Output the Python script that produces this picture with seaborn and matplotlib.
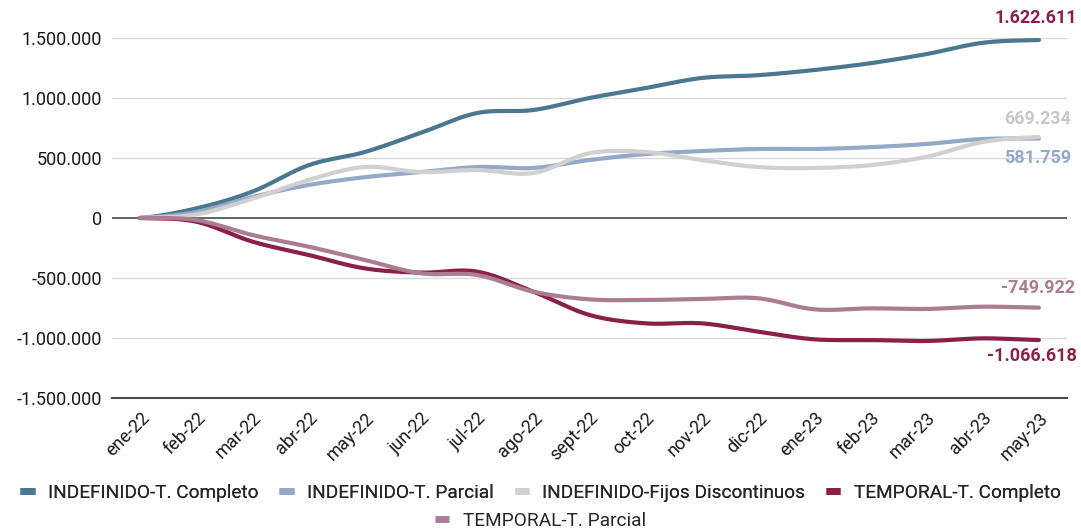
import numpy as np
import pandas as pd
import matplotlib
matplotlib.use("Agg")
import matplotlib.pyplot as plt
import matplotlib.transforms as mtransforms
from matplotlib.lines import Line2D
from matplotlib.ticker import FuncFormatter
import seaborn as sns

meses = ["ene-22", "feb-22", "mar-22", "abr-22", "may-22", "jun-22", "jul-22", "ago-22",
         "sept-22", "oct-22", "nov-22", "dic-22", "ene-23", "feb-23", "mar-23", "abr-23", "may-23"]

indef_completo = [0, 80000, 220000, 440000, 550000, 710000, 875000, 900000, 1000000,
                  1083000, 1167000, 1190000, 1233000, 1290000, 1366000, 1460000, 1483000]
indef_parcial = [0, 50000, 175000, 275000, 340000, 383000, 425000, 417000, 483000,
                 533000, 558000, 575000, 575000, 590000, 617000, 658000, 662000]
indef_fijos = [0, 30000, 160000, 317000, 425000, 383000, 400000, 375000, 540000,
               550000, 483000, 425000, 417000, 440000, 510000, 633000, 675000]
temp_completo = [0, -31000, -197000, -308000, -420000, -455000, -447000, -614000, -808000,
                 -878000, -878000, -947000, -1011000, -1017000, -1025000, -1003000, -1017000]
temp_parcial = [0, -17000, -142000, -239000, -350000, -461000, -475000, -614000, -678000,
                -683000, -675000, -669000, -761000, -753000, -758000, -739000, -747000]

series = {
    "INDEFINIDO-T. Completo": indef_completo,
    "INDEFINIDO-T. Parcial": indef_parcial,
    "INDEFINIDO-Fijos Discontinuos": indef_fijos,
    "TEMPORAL-T. Completo": temp_completo,
    "TEMPORAL-T. Parcial": temp_parcial,
}
colores = {
    "INDEFINIDO-T. Completo": "#4a7890",
    "INDEFINIDO-T. Parcial": "#93a9c8",
    "INDEFINIDO-Fijos Discontinuos": "#d0d0d0",
    "TEMPORAL-T. Completo": "#8a1f47",
    "TEMPORAL-T. Parcial": "#ab7d90",
}

# etiquetas finales (texto, color, desplazamiento en px respecto al último punto)
etiquetas = [
    ("INDEFINIDO-T. Completo", "1.622.611", "#8a1f47", 38, 22),
    ("INDEFINIDO-Fijos Discontinuos", "669.234", "#c8c8c8", 32, 18),
    ("INDEFINIDO-T. Parcial", "581.759", "#93a9c8", 32, -19),
    ("TEMPORAL-T. Parcial", "-749.922", "#ab7d90", 36, 20),
    ("TEMPORAL-T. Completo", "-1.066.618", "#8a1f47", 38, -16),
]


def suavizar(y, n=20):
    # curva tipo Catmull-Rom, como las líneas suavizadas de Excel
    y = np.asarray(y, dtype=float)
    m = np.zeros_like(y)
    m[1:-1] = (y[2:] - y[:-2]) / 2
    m[0] = (y[1] - y[0]) / 2
    m[-1] = (y[-1] - y[-2]) / 2
    xs, ys = [], []
    for i in range(len(y) - 1):
        t = np.linspace(0, 1, n, endpoint=False)
        h00 = 2 * t**3 - 3 * t**2 + 1
        h10 = t**3 - 2 * t**2 + t
        h01 = -2 * t**3 + 3 * t**2
        h11 = t**3 - t**2
        xs.append(i + t)
        ys.append(h00 * y[i] + h10 * m[i] + h01 * y[i + 1] + h11 * m[i + 1])
    xs.append([len(y) - 1])
    ys.append([y[-1]])
    return np.concatenate(xs), np.concatenate(ys)


filas = []
for nombre, vals in series.items():
    xs, ys = suavizar(vals)
    filas.append(pd.DataFrame({"pos": xs, "valor": ys, "serie": nombre}))
df = pd.concat(filas, ignore_index=True)

sns.set_style("white")
plt.rcParams["font.family"] = ["Roboto", "DejaVu Sans"]

fig = plt.figure(figsize=(10.81, 5.32), dpi=100)
ax = fig.add_axes([112 / 1081, 134 / 532, 955 / 1081, 360 / 532])

ax.grid(axis="y", color="#d9d9d9", linewidth=1)
ax.set_axisbelow(True)
ax.axhline(0, color="#5a5a5a", linewidth=1.3, zorder=1)

sns.lineplot(data=df, x="pos", y="valor", hue="serie", palette=colores,
             linewidth=3, sort=False, legend=False, ax=ax, zorder=3)

ax.set_xlim(-0.5, len(meses) - 0.5)
ax.set_ylim(-1500000, 1500000)
ax.set_yticks(np.arange(-1500000, 1500001, 500000))
ax.yaxis.set_major_formatter(FuncFormatter(lambda v, p: f"{int(v):,}".replace(",", ".")))
ax.set_xticks(range(len(meses)))
ax.set_xticklabels(meses, rotation=45, ha="right", rotation_mode="anchor")
offset = mtransforms.ScaledTranslation(11 / 100, 0, fig.dpi_scale_trans)
for lbl in ax.get_xticklabels():
    lbl.set_transform(lbl.get_transform() + offset)
ax.tick_params(axis="both", length=0, labelsize=13, colors="#1a1a1a")
ax.tick_params(axis="y", pad=7)
ax.tick_params(axis="x", pad=8)
ax.set_xlabel("")
ax.set_ylabel("")

for s in ["top", "right", "left"]:
    ax.spines[s].set_visible(False)
ax.spines["bottom"].set_color("#4a4a4a")
ax.spines["bottom"].set_linewidth(1.5)

for nombre, texto, color, dx, dy in etiquetas:
    ultimo = series[nombre][-1]
    ax.annotate(texto, xy=(len(meses) - 1, ultimo), xytext=(dx, dy),
                textcoords="offset pixels", ha="right", va="center",
                fontsize=13, fontweight="bold", color=color, annotation_clip=False)

nombres = list(series.keys())
handles = [Line2D([0], [0], color=colores[n], linewidth=5, solid_capstyle="butt") for n in nombres]
leg1 = fig.legend(handles[:4], nombres[:4], ncol=4, loc="center",
                  bbox_to_anchor=(0.5, 1 - 493 / 532), frameon=False, fontsize=13.7,
                  handlelength=0.75, handletextpad=0.7, columnspacing=1.1)
fig.legend(handles[4:], nombres[4:], ncol=1, loc="center",
           bbox_to_anchor=(0.5, 1 - 521 / 532), frameon=False, fontsize=13.7,
           handlelength=0.75, handletextpad=0.7)
fig.add_artist(leg1)

fig.savefig("out.png", dpi=100)
